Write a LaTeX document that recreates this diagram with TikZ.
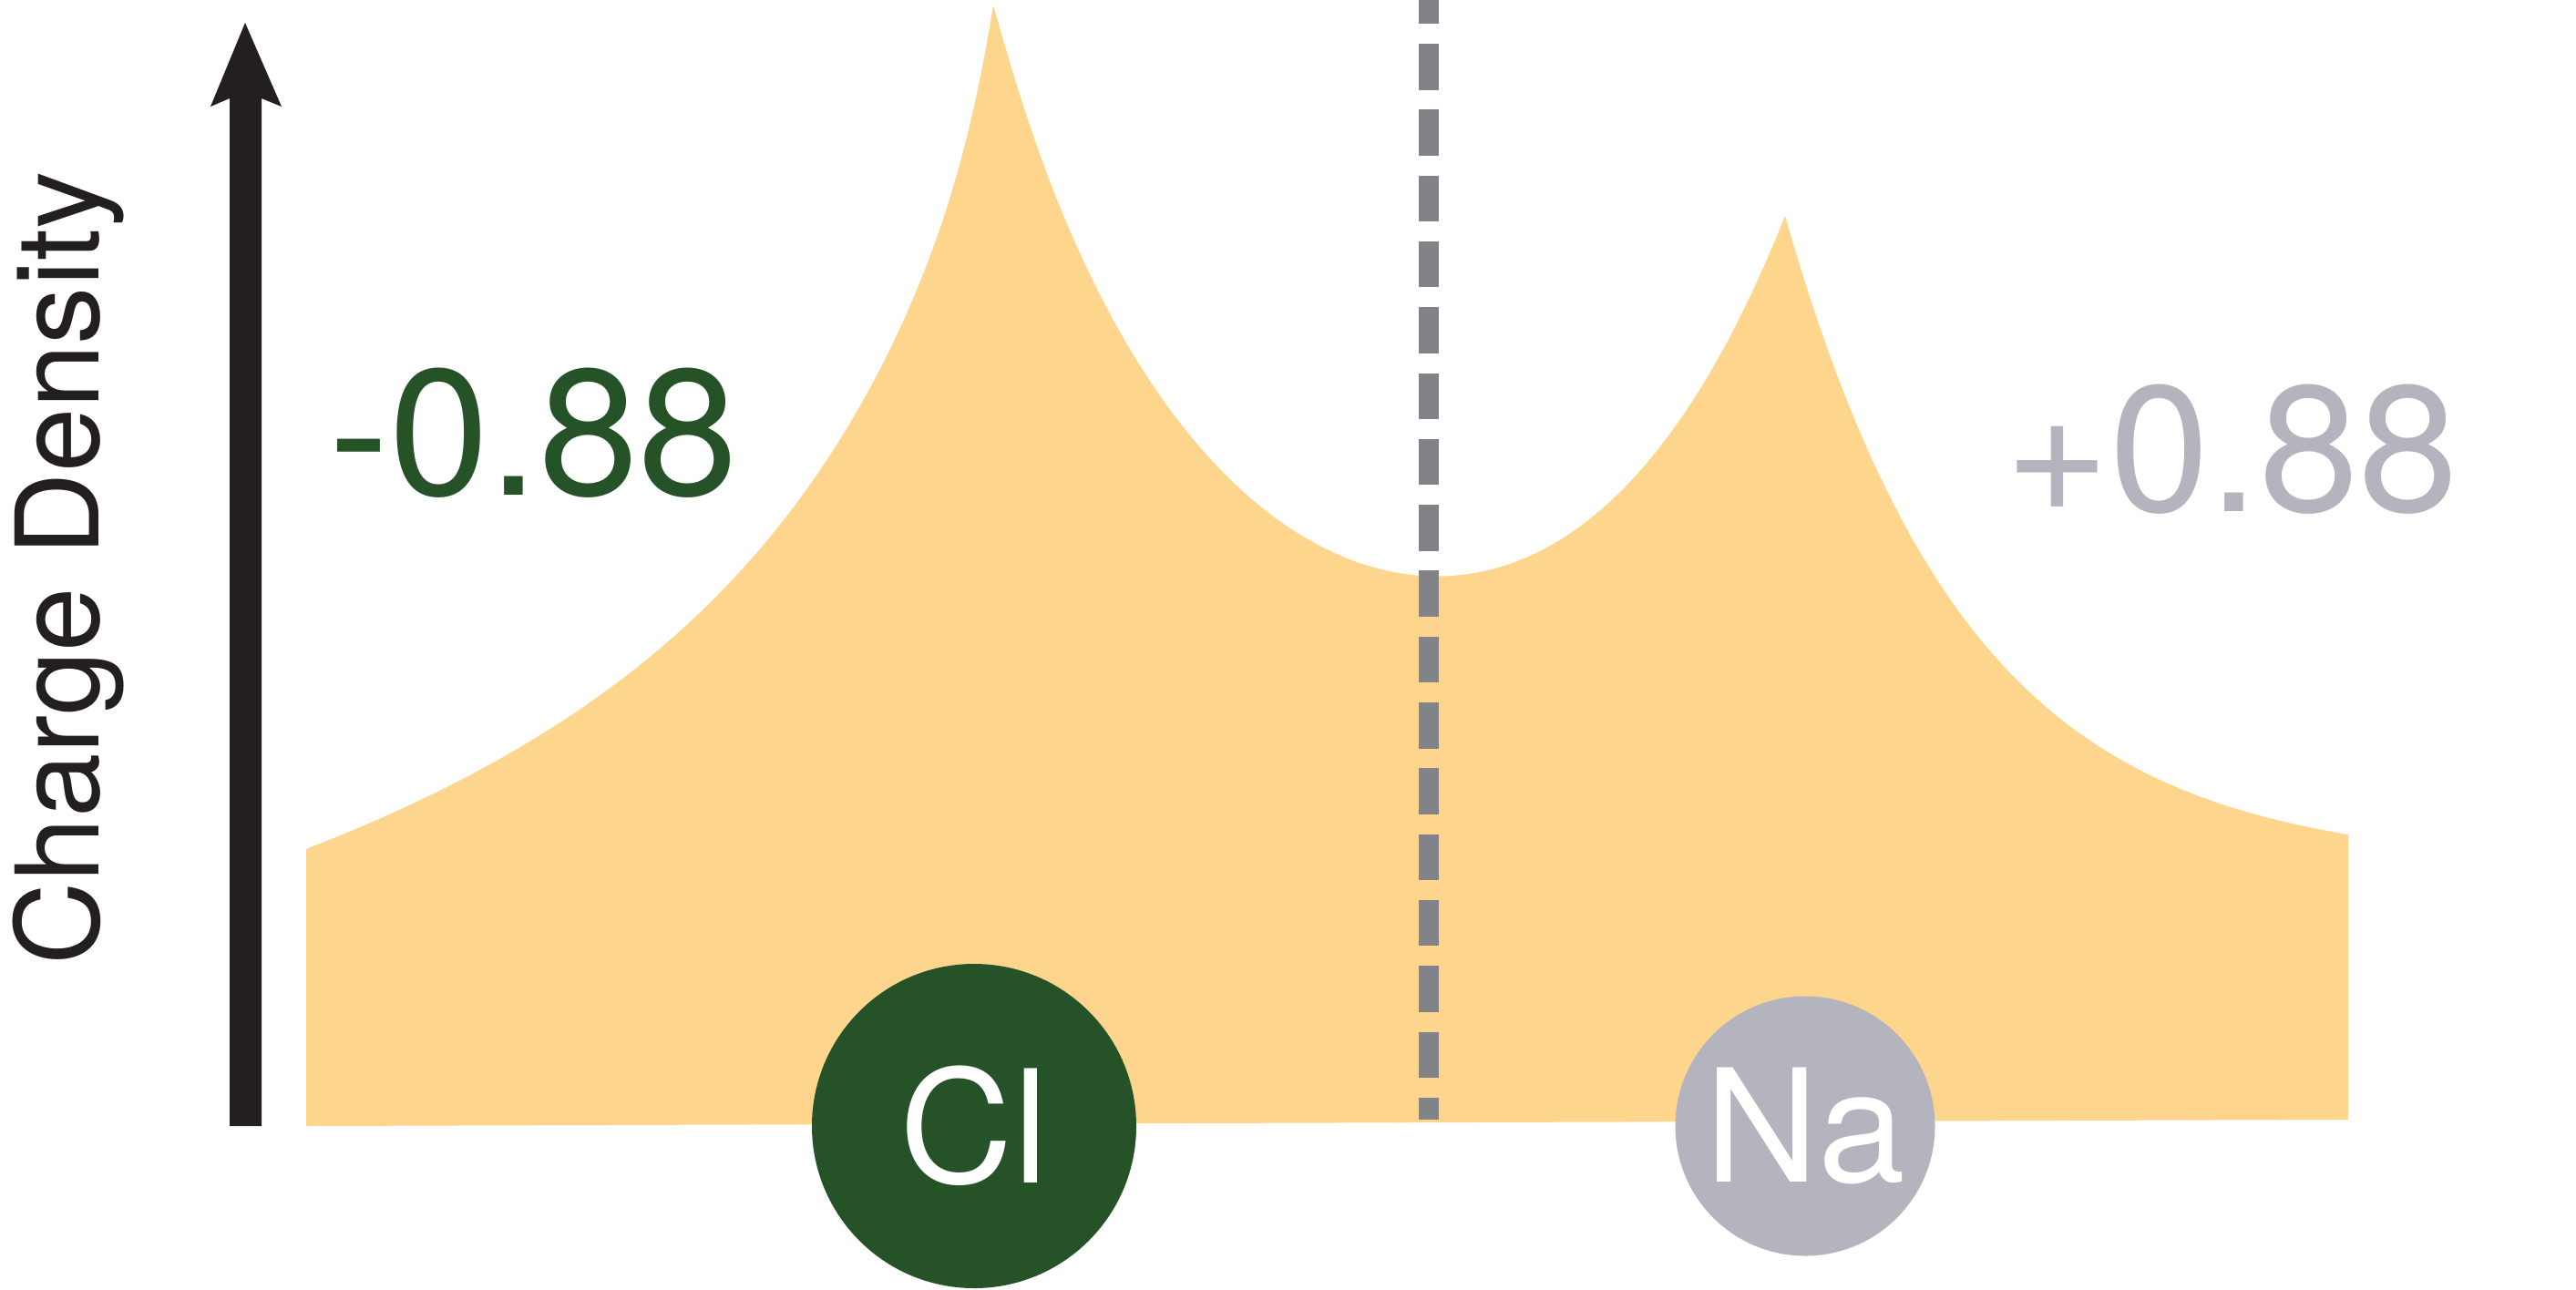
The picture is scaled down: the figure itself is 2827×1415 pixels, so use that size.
\documentclass[tikz,border=0pt]{standalone}
\usepackage{fontspec}
\setmainfont{TeX Gyre Heros}
\definecolor{densfill}{RGB}{253,213,141}
\definecolor{clgreen}{RGB}{38,82,40}
\definecolor{nagray}{RGB}{179,180,190}
\definecolor{dashgray}{RGB}{130,131,136}
\definecolor{axisblack}{RGB}{35,31,32}
\begin{document}
\begin{tikzpicture}[x=0.1mm,y=-0.1mm,
  atom/.style={circle,inner sep=0pt,text=white,font=\fontsize{49pt}{52pt}\selectfont},
  chargelabel/.style={inner sep=0pt,anchor=base,font=\fontsize{56pt}{60pt}\selectfont}]
\useasboundingbox (0,0) rectangle (2827,1415);
% density profile
\fill[densfill] (336,1236)
  -- plot[domain=336:1090,samples=160]
     (\x,{1236-(721.3*exp(-(1090-\x)/850)+367.3*exp(-(1090-\x)/190)+52*exp(-(1090-\x)/100)+89*exp(-(1090-\x)/30))})
  -- plot[domain=1090:1959,samples=220]
     (\x,{1236-(720*exp(-(\x-1090)/800)+420*exp(-(\x-1090)/190)+89*exp(-(\x-1090)/30)+751.5*exp(-(1959-\x)/265)+40*exp(-(\x-1090)/150)-67*exp(-(\x-1090)/25))})
  -- plot[domain=1959:2577,samples=120]
     (\x,{1236-(286+713*exp(-(\x-1959)/203))})
  -- (2577,1229) -- cycle;
% dashed boundary
\coordinate (dtop) at (1568,0);
\coordinate (dbot) at (1568,1229);
\draw[dashgray,line width=2.2mm,dash pattern=on 5.05mm off 2.18mm,dash phase=2.43mm] (dtop) -- (dbot);
% axis arrow
\fill[axisblack] (252,1236) -- (252,108) -- (231,117) -- (269,25) -- (309,117) -- (287,108) -- (287,1236) -- cycle;
\node[rotate=90,anchor=base,inner sep=0pt,text=axisblack,font=\fontsize{36pt}{40pt}\selectfont] (ylab) at (108,624) {Charge Density};
% atoms
\node[atom,fill=clgreen,minimum size=35.6mm] (cl) at (1069,1236) {Cl};
\node[atom,fill=nagray,minimum size=28.5mm] (na) at (1981,1236) {Na};
% charges
\node[chargelabel,text=clgreen] (qcl) at (586,543) {-0.88};
\node[chargelabel,text=nagray] (qna) at (2449,561) {+0.88};
\end{tikzpicture}
\end{document}
